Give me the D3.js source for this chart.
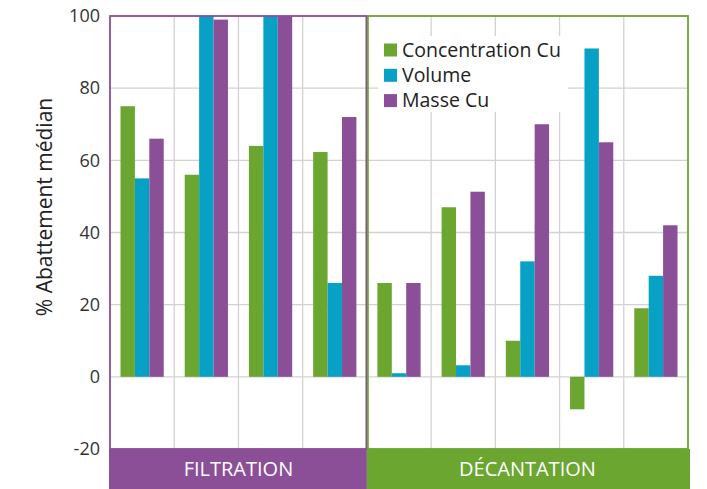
<!DOCTYPE html>
<html lang="fr">
<head>
  <meta charset="UTF-8">
  <title>Abattement médian</title>
  <script src="https://d3js.org/d3.v7.min.js"></script>
  <style>
    body {
      margin: 0;
      padding: 0;
      background: #fff;
      font-family: "Open Sans", sans-serif;
    }
  </style>
</head>
<body>
  <svg id="chart" width="707" height="489"></svg>

  <script>
    const groups = ["FILTRATION", "DÉCANTATION"];
    const categories = ["F1", "F2", "F3", "F4", "D1", "D2", "D3", "D4", "D5"];
    const categoryGroup = ["FILTRATION", "FILTRATION", "FILTRATION", "FILTRATION",
      "DÉCANTATION", "DÉCANTATION", "DÉCANTATION", "DÉCANTATION", "DÉCANTATION"];
    const seriesNames = ["Concentration Cu", "Volume", "Masse Cu"];
    const concentrationCu = [75, 56, 64, 62.3, 26, 47, 10, -9, 19];
    const volume = [55, 100, 100, 26, 1, 3.2, 32, 91, 28];
    const masseCu = [66, 99, 100, 72, 26, 51.3, 70, 65, 42];
    const yTicks = [-20, 0, 20, 40, 60, 80, 100];

    const colors = {
      "Concentration Cu": "#6aa630",
      "Volume": "#08a1c6",
      "Masse Cu": "#8b4f98"
    };
    const groupColors = { "FILTRATION": "#8b4f98", "DÉCANTATION": "#6aa630" };

    const seriesValues = [concentrationCu, volume, masseCu];
    const svg = d3.select("#chart");

    const plotLeft = 110, plotRight = 688, plotTop = 16, plotBottom = 449;

    const x = d3.scaleBand().domain(categories).range([plotLeft, plotRight]).paddingInner(0).paddingOuter(0);
    const x1 = d3.scaleBand().domain(seriesNames).range([10.5, x.bandwidth() - 10.5]).padding(0);
    const y = d3.scaleLinear().domain([-20, 100]).range([plotBottom, plotTop]);

    // grid
    const grid = svg.append("g");
    grid.selectAll("line.h")
      .data(yTicks)
      .join("line")
      .attr("class", "h")
      .attr("x1", plotLeft).attr("x2", plotRight)
      .attr("y1", d => y(d)).attr("y2", d => y(d))
      .attr("stroke", "#d2d2d2").attr("stroke-width", 1.3);
    grid.selectAll("line.v")
      .data(categories.slice(1))
      .join("line")
      .attr("class", "v")
      .attr("x1", d => x(d)).attr("x2", d => x(d))
      .attr("y1", plotTop).attr("y2", plotBottom)
      .attr("stroke", "#d2d2d2").attr("stroke-width", 1.3);

    // legend background (hides gridlines)
    const legend = svg.append("g");
    legend.append("rect")
      .attr("x", 378).attr("y", 36).attr("width", 190).attr("height", 76)
      .attr("fill", "#fff");

    // bars
    const rows = categories.flatMap((c, i) =>
      seriesNames.map((s, j) => ({ cat: c, series: s, value: seriesValues[j][i] })));

    svg.append("g")
      .selectAll("rect")
      .data(rows)
      .join("rect")
      .attr("x", d => x(d.cat) + x1(d.series))
      .attr("y", d => y(Math.max(0, d.value)))
      .attr("width", x1.bandwidth())
      .attr("height", d => Math.abs(y(d.value) - y(0)))
      .attr("fill", d => colors[d.series]);

    // group frames and bands
    groups.forEach(g => {
      const cats = categories.filter((c, i) => categoryGroup[i] === g);
      const x0 = x(cats[0]);
      const xEnd = x(cats[cats.length - 1]) + x.bandwidth();
      const isFirst = g === groups[0];
      svg.append("rect")
        .attr("x", x0 + (isFirst ? 0 : 1)).attr("y", plotTop)
        .attr("width", xEnd - x0 - (isFirst ? 0.5 : 1)).attr("height", plotBottom - plotTop)
        .attr("fill", "none")
        .attr("stroke", groupColors[g])
        .attr("stroke-width", 1.8);
      svg.append("rect")
        .attr("x", isFirst ? x0 - 1 : x0)
        .attr("y", plotBottom)
        .attr("width", isFirst ? xEnd - x0 + 1 : xEnd - x0 + 2)
        .attr("height", 489 - plotBottom)
        .attr("fill", groupColors[g]);
      svg.append("text")
        .attr("x", (x0 + xEnd) / 2)
        .attr("y", 469)
        .attr("dy", "0.35em")
        .attr("text-anchor", "middle")
        .attr("fill", "#fff")
        .style("font-size", "20px")
        .text(g);
    });

    // y tick labels
    svg.append("g")
      .selectAll("text")
      .data(yTicks)
      .join("text")
      .attr("x", 100)
      .attr("y", d => y(d))
      .attr("dy", "0.35em")
      .attr("text-anchor", "end")
      .attr("fill", "#333")
      .style("font-size", "18px")
      .text(d => d);

    // y axis title
    svg.append("text")
      .attr("transform", "translate(52,207) rotate(-90)")
      .attr("text-anchor", "middle")
      .attr("fill", "#222")
      .style("font-size", "21px")
      .text("% Abattement médian");

    // legend entries
    const items = legend.selectAll("g.item")
      .data(seriesNames)
      .join("g")
      .attr("class", "item")
      .attr("transform", (d, i) => `translate(384,${50 + i * 25.3})`);
    items.append("rect")
      .attr("x", 0).attr("y", -6.5)
      .attr("width", 13).attr("height", 13)
      .attr("fill", d => colors[d]);
    items.append("text")
      .attr("x", 18)
      .attr("dy", "0.35em")
      .attr("fill", "#222")
      .style("font-size", "19.5px")
      .text(d => d);
  </script>
</body>
</html>
